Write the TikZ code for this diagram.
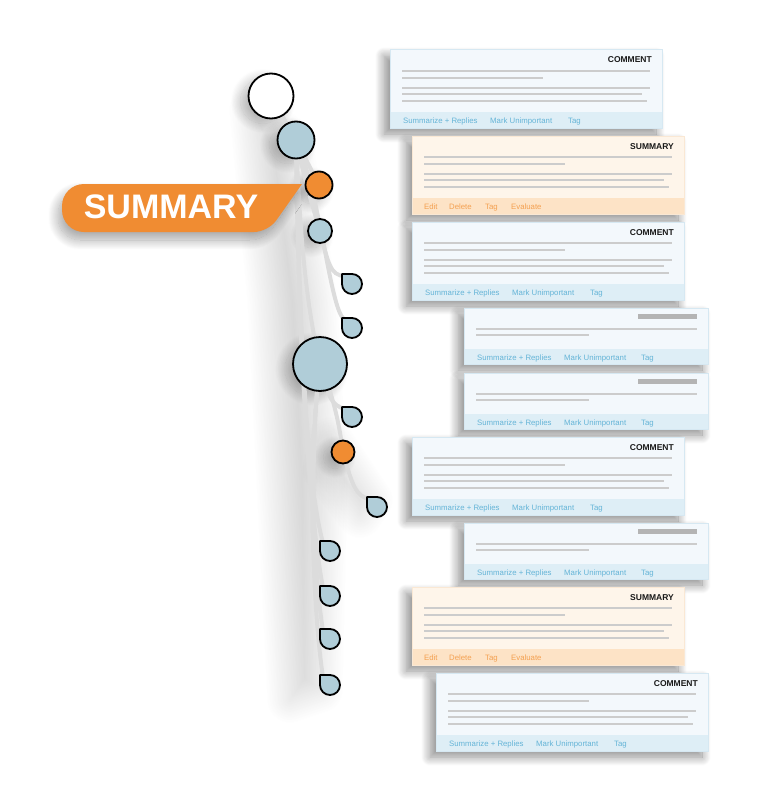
\documentclass[tikz,border=0pt]{standalone}
\usepackage{fontspec}
\setmainfont{Liberation Sans}
\usetikzlibrary{shadows.blur}
\definecolor{orng}{RGB}{240,140,50}
\definecolor{cblue}{RGB}{176,205,216}
\definecolor{cardbg}{RGB}{243,248,252}
\definecolor{cardbd}{RGB}{214,232,242}
\definecolor{cardft}{RGB}{222,238,246}
\definecolor{cardtx}{RGB}{100,180,215}
\definecolor{sumbg}{RGB}{254,245,234}
\definecolor{sumbd}{RGB}{250,232,212}
\definecolor{sumft}{RGB}{253,227,198}
\definecolor{sumtx}{RGB}{244,160,80}
\definecolor{txtline}{RGB}{204,204,204}
\definecolor{barg}{RGB}{180,180,180}
\definecolor{treel}{RGB}{220,220,220}
\tikzset{
 cardbox/.style={rectangle, inner sep=0pt, outer sep=0pt, line width=1pt,
   blur shadow={shadow xshift=-6pt, shadow yshift=-6pt, shadow blur radius=9pt, shadow opacity=45, shadow blur steps=20}},
 cardtitle/.style={font={\bfseries\fontsize{8.5}{10}\selectfont}, text=black!90, inner sep=0pt, anchor=base east},
 foottext/.style={font={\fontsize{7.8}{9}\selectfont}, inner sep=0pt, anchor=base west},
 txl/.style={line width=2.6pt, color=txtline},
 circ/.style={circle, draw=black, line width=1.8pt, inner sep=0pt},
 circshadow/.style={blur shadow={shadow xshift=-8pt, shadow yshift=-5pt, shadow blur radius=10pt, shadow opacity=25, shadow blur steps=24}},
 drop/.style={draw=black, line width=1.8pt, fill=cblue, line join=round},
 tree/.style={draw=treel, line width=4pt, line cap=round},
 haze/.style={blur shadow={shadow xshift=-10pt, shadow yshift=0pt, shadow blur radius=24pt, shadow opacity=16, shadow blur steps=30}},
}
\newcommand{\cardlines}[2]{%
 \draw[txl] (#1+12,#2+21) -- (#1+260,#2+21);
 \draw[txl] (#1+12,#2+28) -- (#1+153,#2+28);
 \draw[txl] (#1+12,#2+38) -- (#1+260,#2+38);
 \draw[txl] (#1+12,#2+44) -- (#1+252,#2+44);
 \draw[txl] (#1+12,#2+51) -- (#1+257,#2+51);
}
\newcommand{\commentcard}[3]{%
 \node[cardbox, fill=cardbg, draw=cardbd, minimum width=272pt, minimum height=78pt] (#1) at (#2+136,#3+39) {};
 \fill[cardft] (#2+0.5,#3+62) rectangle (#2+271.5,#3+77.5);
 \node[cardtitle] (#1-t) at (#2+262,#3+13) {COMMENT};
 \cardlines{#2}{#3}
 \node[foottext, text=cardtx] (#1-f1) at (#2+13,#3+73) {Summarize + Replies};
 \node[foottext, text=cardtx] (#1-f2) at (#2+100,#3+73) {Mark Unimportant};
 \node[foottext, text=cardtx] (#1-f3) at (#2+178,#3+73) {Tag};
}
\newcommand{\summarycard}[3]{%
 \node[cardbox, fill=sumbg, draw=sumbd, minimum width=272pt, minimum height=78pt] (#1) at (#2+136,#3+39) {};
 \fill[sumft] (#2+0.5,#3+62) rectangle (#2+271.5,#3+77.5);
 \node[cardtitle] (#1-t) at (#2+262,#3+13) {SUMMARY};
 \cardlines{#2}{#3}
 \node[foottext, text=sumtx] (#1-f1) at (#2+12,#3+73) {Edit};
 \node[foottext, text=sumtx] (#1-f2) at (#2+37,#3+73) {Delete};
 \node[foottext, text=sumtx] (#1-f3) at (#2+73,#3+73) {Tag};
 \node[foottext, text=sumtx] (#1-f4) at (#2+99,#3+73) {Evaluate};
}
\newcommand{\replycard}[3]{%
 \node[cardbox, fill=cardbg, draw=cardbd, minimum width=244pt, minimum height=56pt] (#1) at (#2+122,#3+28) {};
 \fill[cardft] (#2+0.5,#3+41) rectangle (#2+243.5,#3+55.5);
 \draw[line width=5pt, barg] (#2+174,#3+8) -- (#2+233,#3+8);
 \draw[txl] (#2+12,#3+21) -- (#2+233,#3+21);
 \draw[txl] (#2+12,#3+27) -- (#2+125,#3+27);
 \node[foottext, text=cardtx] (#1-f1) at (#2+13,#3+52) {Summarize + Replies};
 \node[foottext, text=cardtx] (#1-f2) at (#2+100,#3+52) {Mark Unimportant};
 \node[foottext, text=cardtx] (#1-f3) at (#2+177,#3+52) {Tag};
}
\newcommand{\tdrop}[3]{%
 \coordinate (#1) at (#2,#3);
 \coordinate (#1n) at (#2-7,#3-8);
}
\newcommand{\drawdrop}[3]{%
 \draw[drop] (#2-10,#3-10) -- ++(10,0) arc[start angle=-90, end angle=180, radius=10] -- cycle;
}
\begin{document}
\begin{tikzpicture}[x=1pt,y=-1pt]
\useasboundingbox (0,0) rectangle (770,800);
% positions of the tree nodes
\coordinate (root) at (271,96);
\coordinate (a) at (296,140);
\coordinate (s1) at (319,185);
\coordinate (b) at (320,231);
\coordinate (big) at (320,364);
\coordinate (s2) at (343,452);
\tdrop{t1}{352}{284}
\tdrop{t2}{352}{328}
\tdrop{t3}{352}{417}
\tdrop{t4}{377}{507}
\tdrop{t5}{330}{551}
\tdrop{t6}{330}{596}
\tdrop{t7}{330}{639}
\tdrop{t8}{330}{685}
% soft haze behind the tree
\path[haze] (262,110) -- (300,140) -- (325,300) -- (335,480) -- (330,690) -- (300,700) -- (290,500) -- (280,300) -- cycle;
\path[haze] (340,440) -- (380,500) -- (370,515) -- (335,470) -- cycle;
% shadows of the circles
\path[circshadow] (root) circle[radius=22.5];
\path[circshadow] (a) circle[radius=18.5];
\path[circshadow] (s1) circle[radius=13.5];
\path[circshadow] (b) circle[radius=12];
\path[circshadow] (big) circle[radius=27];
\path[circshadow] (s2) circle[radius=11.5];
% connectors
\draw[tree] (root) -- (a);
\draw[tree] (a) -- (s1);
\draw[tree] (a) .. controls (306,185) and (312,205) .. (b);
\draw[tree] (b) .. controls (328,262) and (330,276) .. (t1n);
\draw[tree] (a) .. controls (322,200) and (330,312) .. (t2n);
\draw[tree] (a) .. controls (300,230) and (305,300) .. (big);
\draw[tree] (a) .. controls (300,330) and (306,480) .. (t5n);
\draw[tree] (a) .. controls (298,350) and (310,520) .. (t6n);
\draw[tree] (big) .. controls (310,450) and (312,560) .. (t7n);
\draw[tree] (big) .. controls (306,470) and (314,620) .. (t8n);
\draw[tree] (big) .. controls (328,395) and (330,405) .. (t3n);
\draw[tree] (big) .. controls (335,400) and (340,430) .. (s2);
\draw[tree] (s2) .. controls (352,485) and (356,497) .. (t4n);
% nodes
\node[circ, fill=white, minimum size=45pt] (root) at (root) {};
\node[circ, fill=cblue, minimum size=37pt] (a) at (a) {};
\node[circ, fill=orng, minimum size=27pt] (s1) at (s1) {};
\node[circ, fill=cblue, minimum size=24pt] (b) at (b) {};
\node[circ, fill=cblue, minimum size=54pt] (big) at (big) {};
\node[circ, fill=orng, minimum size=23pt] (s2) at (s2) {};
\drawdrop{t1}{352}{284}
\drawdrop{t2}{352}{328}
\drawdrop{t3}{352}{417}
\drawdrop{t4}{377}{507}
\drawdrop{t5}{330}{551}
\drawdrop{t6}{330}{596}
\drawdrop{t7}{330}{639}
\drawdrop{t8}{330}{685}
% label
\fill[orng, blur shadow={shadow xshift=-4pt, shadow yshift=-8pt, shadow blur radius=10pt, shadow opacity=35, shadow blur steps=20}]
  (150,184) -- (302,184) [rounded corners=14pt] -- (268,232) [rounded corners=22pt] -- (62,232) -- (62,184) -- cycle;
\node[font={\bfseries\fontsize{34}{36}\selectfont}, text=white, inner sep=0pt] (lbl) at (171,207) {SUMMARY};
% cards
\commentcard{c1}{390}{50}
\summarycard{c2}{412}{136}
\commentcard{c3}{412}{222}
\replycard{c4}{464}{308}
\replycard{c5}{464}{373}
\commentcard{c6}{412}{437}
\replycard{c7}{464}{523}
\summarycard{c8}{412}{587}
\commentcard{c9}{436}{673}
\end{tikzpicture}
\end{document}
